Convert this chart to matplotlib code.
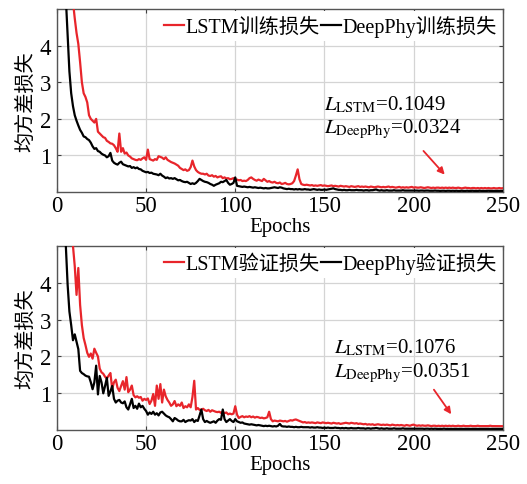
import matplotlib
matplotlib.use("Agg")
import matplotlib.pyplot as plt
import numpy as np

plt.rcParams['font.family'] = ['Liberation Serif', 'Noto Sans CJK SC']
plt.rcParams['mathtext.fontset'] = 'stix'

# ---------------- data ----------------
train_lstm = [
    14.0, 11.5, 9.8, 8.6, 7.6, 6.8, 6.1, 5.6, 5.2, 4.75,
    4.35, 4.05, 3.55, 3.0, 2.7, 2.6, 2.45, 2.1, 2.0, 1.95,
    1.9, 2.0, 1.65, 1.6, 1.55, 1.5, 1.48, 1.4, 1.37, 1.33,
    1.32, 1.28, 1.2, 1.1, 1.6, 1.1, 1.2, 1.05, 1.08, 1.0,
    0.97, 0.92, 0.9, 0.88, 0.87, 0.9, 0.88, 0.92, 0.95, 0.88,
    1.16, 0.9, 0.88, 0.86, 0.9, 0.88, 0.98, 0.96, 0.94, 0.9,
    0.95, 0.88, 0.85, 0.82, 0.8, 0.78, 0.75, 0.72, 0.66, 0.63,
    0.6, 0.62, 0.58, 0.6, 0.68, 0.86, 0.7, 0.6, 0.55, 0.52,
    0.5, 0.5, 0.48, 0.5, 0.45, 0.44, 0.46, 0.42, 0.44, 0.4,
    0.42, 0.43, 0.38, 0.4, 0.37, 0.38, 0.35, 0.36, 0.38, 0.34,
    0.34, 0.32, 0.33, 0.3, 0.31, 0.3, 0.33, 0.38, 0.4, 0.36,
    0.33, 0.31, 0.34, 0.32, 0.3, 0.36, 0.32, 0.28, 0.3, 0.27,
    0.26, 0.28, 0.25, 0.24, 0.26, 0.22, 0.23, 0.25, 0.22, 0.21,
    0.22, 0.24, 0.3, 0.45, 0.62, 0.35, 0.22, 0.2, 0.19, 0.2,
    0.19, 0.18, 0.19, 0.17, 0.18, 0.17, 0.18, 0.19, 0.17, 0.18,
    0.17, 0.16, 0.17, 0.18, 0.16, 0.17, 0.16, 0.15, 0.17, 0.16,
    0.15, 0.16, 0.15, 0.14, 0.16, 0.15, 0.14, 0.15, 0.16, 0.14,
    0.15, 0.14, 0.15, 0.14, 0.13, 0.15, 0.14, 0.13, 0.14, 0.15,
    0.14, 0.13, 0.14, 0.13, 0.14, 0.15, 0.13, 0.14, 0.13, 0.12,
    0.13, 0.14, 0.12, 0.13, 0.12, 0.13, 0.12, 0.13, 0.14, 0.12,
    0.13, 0.12, 0.12, 0.13, 0.12, 0.11, 0.12, 0.13, 0.12, 0.11,
    0.12, 0.11, 0.12, 0.12, 0.11, 0.12, 0.11, 0.12, 0.11, 0.12,
    0.11, 0.12, 0.11, 0.11, 0.12, 0.11, 0.10, 0.11, 0.12, 0.11,
    0.11, 0.10, 0.11, 0.11, 0.10, 0.11, 0.10, 0.11, 0.10, 0.11,
    0.10, 0.11, 0.10, 0.10, 0.11, 0.10, 0.10, 0.11, 0.10, 0.105,
]
train_deep = [
    20.0, 12.0, 8.5, 6.5, 5.3, 4.3, 3.3, 2.7, 2.35, 2.1,
    1.95, 1.82, 1.7, 1.62, 1.52, 1.5, 1.45, 1.42, 1.35, 1.25,
    1.18, 1.2, 1.12, 1.1, 1.05, 1.02, 1.0, 0.95, 0.98, 1.07,
    0.86, 0.8, 0.77, 0.75, 0.8, 0.83, 0.76, 0.74, 0.72, 0.7,
    0.71, 0.66, 0.68, 0.65, 0.67, 0.63, 0.62, 0.58, 0.56, 0.54,
    0.55, 0.52, 0.53, 0.5, 0.49, 0.48, 0.46, 0.5, 0.45, 0.42,
    0.38, 0.4, 0.37, 0.38, 0.36, 0.38, 0.35, 0.32, 0.33, 0.3,
    0.28, 0.27, 0.28, 0.25, 0.22, 0.24, 0.22, 0.25, 0.3, 0.36,
    0.33, 0.3, 0.28, 0.27, 0.25, 0.22, 0.2, 0.17, 0.2, 0.22,
    0.24, 0.28, 0.27, 0.3, 0.33, 0.25, 0.2, 0.22, 0.25, 0.4,
    0.17, 0.16, 0.15, 0.14, 0.15, 0.14, 0.13, 0.14, 0.13, 0.12,
    0.13, 0.12, 0.11, 0.12, 0.11, 0.10, 0.11, 0.10, 0.10, 0.11,
    0.12, 0.13, 0.12, 0.11, 0.13, 0.12, 0.10, 0.09, 0.08, 0.09,
    0.08, 0.08, 0.07, 0.08, 0.07, 0.08, 0.07, 0.07, 0.08, 0.07,
    0.07, 0.06, 0.07, 0.08, 0.07, 0.06, 0.07, 0.06, 0.06, 0.07,
    0.06, 0.07, 0.08, 0.09, 0.10, 0.08, 0.07, 0.06, 0.06, 0.05,
    0.06, 0.05, 0.05, 0.06, 0.05, 0.05, 0.05, 0.06, 0.05, 0.05,
    0.05, 0.04, 0.05, 0.05, 0.04, 0.05, 0.05, 0.06, 0.07, 0.05,
    0.04, 0.05, 0.04, 0.04, 0.05, 0.04, 0.04, 0.04, 0.05, 0.04,
    0.04, 0.04, 0.04, 0.05, 0.04, 0.04, 0.04, 0.04, 0.04, 0.04,
    0.04, 0.04, 0.035, 0.04, 0.04, 0.035, 0.04, 0.04, 0.035, 0.035,
    0.035, 0.04, 0.035, 0.035, 0.03, 0.035, 0.035, 0.03, 0.035, 0.035,
    0.03, 0.035, 0.03, 0.035, 0.03, 0.03, 0.035, 0.03, 0.03, 0.035,
    0.03, 0.03, 0.035, 0.03, 0.03, 0.03, 0.035, 0.03, 0.03, 0.03,
    0.03, 0.035, 0.03, 0.03, 0.03, 0.033, 0.03, 0.03, 0.033, 0.032,
]
val_lstm = [
    15.0, 12.0, 10.0, 8.8, 7.8, 7.0, 6.3, 5.6, 5.0, 4.45,
    3.67, 4.4, 3.4, 2.85, 2.5, 2.31, 2.1, 1.99, 2.08, 1.94,
    2.21, 2.1, 2.0, 1.67, 1.57, 1.53, 1.45, 1.4, 1.48, 1.55,
    1.12, 1.3, 1.37, 1.15, 1.06, 1.2, 1.33, 1.1, 1.44, 1.03,
    1.1, 1.21, 0.95, 0.89, 0.92, 0.88, 0.9, 0.8, 0.85, 0.82,
    0.86, 0.71, 0.8, 0.98, 0.66, 1.21, 0.85, 1.25, 0.75, 1.1,
    0.92, 0.82, 0.75, 0.66, 0.7, 0.79, 0.65, 0.7, 0.66, 0.75,
    0.6, 0.65, 0.62, 0.7, 0.62, 0.9, 1.34, 0.56, 0.6, 0.55,
    0.56, 0.58, 0.54, 0.52, 0.55, 0.5, 0.54, 0.52, 0.5, 0.49,
    0.5, 0.47, 0.5, 0.46, 0.48, 0.43, 0.45, 0.43, 0.45, 0.65,
    0.42, 0.33, 0.36, 0.38, 0.35, 0.37, 0.36, 0.38, 0.35, 0.37,
    0.34, 0.36, 0.35, 0.33, 0.34, 0.32, 0.33, 0.35, 0.5, 0.3,
    0.24, 0.26, 0.25, 0.24, 0.26, 0.25, 0.24, 0.25, 0.23, 0.25,
    0.27, 0.26, 0.28, 0.29, 0.27, 0.25, 0.23, 0.21, 0.22, 0.2,
    0.21, 0.2, 0.21, 0.2, 0.19, 0.21, 0.2, 0.19, 0.21, 0.2,
    0.19, 0.2, 0.19, 0.18, 0.2, 0.19, 0.18, 0.19, 0.17, 0.18,
    0.19, 0.2, 0.19, 0.18, 0.2, 0.19, 0.18, 0.19, 0.17, 0.18,
    0.17, 0.16, 0.17, 0.15, 0.16, 0.15, 0.16, 0.14, 0.15, 0.16,
    0.15, 0.14, 0.15, 0.14, 0.15, 0.14, 0.13, 0.15, 0.14, 0.13,
    0.14, 0.13, 0.14, 0.13, 0.12, 0.14, 0.13, 0.12, 0.14, 0.15,
    0.13, 0.12, 0.13, 0.12, 0.13, 0.12, 0.12, 0.13, 0.12, 0.11,
    0.12, 0.12, 0.11, 0.12, 0.11, 0.12, 0.11, 0.12, 0.11, 0.12,
    0.11, 0.12, 0.11, 0.11, 0.12, 0.11, 0.11, 0.12, 0.11, 0.11,
    0.11, 0.12, 0.11, 0.11, 0.11, 0.12, 0.11, 0.11, 0.11, 0.11,
    0.11, 0.11, 0.12, 0.11, 0.11, 0.11, 0.11, 0.11, 0.11, 0.108,
]
val_deep = [
    20.0, 13.0, 9.0, 6.5, 5.0, 3.95, 3.22, 2.85, 2.44, 2.6,
    2.4, 2.2, 1.61, 1.55, 1.52, 1.48, 1.46, 1.45, 1.3, 1.11,
    1.3, 1.75, 0.97, 1.47, 1.3, 1.0, 1.2, 1.42, 0.93, 1.05,
    1.2, 0.85, 0.75, 0.8, 0.82, 0.75, 0.73, 0.78, 0.62, 0.56,
    0.7, 0.85, 0.6, 0.66, 0.58, 0.72, 0.62, 0.66, 0.58, 0.52,
    0.42, 0.48, 0.44, 0.5, 0.42, 0.46, 0.4, 0.48, 0.5, 0.45,
    0.4, 0.37, 0.35, 0.3, 0.24, 0.33, 0.3, 0.26, 0.24, 0.24,
    0.28, 0.22, 0.25, 0.27, 0.26, 0.3, 0.22, 0.27, 0.25, 0.4,
    0.56, 0.3, 0.22, 0.25, 0.22, 0.2, 0.22, 0.24, 0.2, 0.26,
    0.3, 0.28, 0.56, 0.3, 0.22, 0.26, 0.3, 0.25, 0.22, 0.3,
    0.24, 0.22, 0.2, 0.21, 0.18, 0.17, 0.16, 0.15, 0.16, 0.15,
    0.14, 0.13, 0.14, 0.13, 0.12, 0.11, 0.12, 0.11, 0.12, 0.11,
    0.1, 0.11, 0.1, 0.12, 0.17, 0.11, 0.1, 0.1, 0.09, 0.1,
    0.09, 0.09, 0.08, 0.09, 0.08, 0.08, 0.09, 0.08, 0.08, 0.08,
    0.08, 0.07, 0.08, 0.07, 0.07, 0.08, 0.07, 0.07, 0.06, 0.07,
    0.06, 0.07, 0.06, 0.06, 0.06, 0.07, 0.06, 0.06, 0.05, 0.06,
    0.05, 0.06, 0.05, 0.05, 0.06, 0.05, 0.05, 0.05, 0.06, 0.05,
    0.05, 0.05, 0.04, 0.05, 0.05, 0.04, 0.05, 0.05, 0.06, 0.05,
    0.04, 0.05, 0.04, 0.04, 0.05, 0.04, 0.04, 0.04, 0.05, 0.04,
    0.04, 0.04, 0.04, 0.05, 0.04, 0.04, 0.04, 0.04, 0.04, 0.04,
    0.04, 0.04, 0.04, 0.04, 0.04, 0.035, 0.04, 0.04, 0.035, 0.04,
    0.035, 0.04, 0.035, 0.035, 0.035, 0.035, 0.04, 0.035, 0.035, 0.035,
    0.035, 0.035, 0.035, 0.035, 0.035, 0.035, 0.035, 0.035, 0.035, 0.035,
    0.035, 0.035, 0.035, 0.035, 0.035, 0.035, 0.035, 0.035, 0.035, 0.035,
    0.035, 0.035, 0.035, 0.035, 0.035, 0.035, 0.035, 0.035, 0.035, 0.035,
]
epochs = np.arange(1, len(train_lstm) + 1)

x_ticks = [0, 50, 100, 150, 200, 250]
y_ticks = [1, 2, 3, 4]

panels = [
    dict(lstm=train_lstm, deep=train_deep,
         lab_lstm='LSTM训练损失', lab_deep='DeepPhy训练损失',
         v_lstm='0.1049', v_deep='0.0324',
         text_xy=(150, 2.42), text2_xy=(150, 1.73),
         arrow_from=(204.5, 1.18), arrow_to=(218.5, 0.42)),
    dict(lstm=val_lstm, deep=val_deep,
         lab_lstm='LSTM验证损失', lab_deep='DeepPhy验证损失',
         v_lstm='0.1076', v_deep='0.0351',
         text_xy=(155.5, 2.25), text2_xy=(155.5, 1.57),
         arrow_from=(210.5, 1.16), arrow_to=(222, 0.37)),
]

RED = '#e8252b'
fig = plt.figure(figsize=(5.27, 4.85), dpi=100)
rects = [[0.108, 0.602, 0.846, 0.377], [0.108, 0.111, 0.846, 0.380]]

for rect, p in zip(rects, panels):
    ax = fig.add_axes(rect)
    ax.plot(epochs, p['lstm'], color=RED, lw=1.6, label=p['lab_lstm'], zorder=3)
    ax.plot(epochs, p['deep'], color='black', lw=1.6, label=p['lab_deep'], zorder=3)
    ax.set_xlim(0, 250)
    ax.set_ylim(0, 5)
    ax.set_xticks(x_ticks)
    ax.set_yticks(y_ticks)
    ax.grid(True, color='#d4d4d4', lw=0.9)
    ax.set_axisbelow(True)
    ax.tick_params(direction='in', top=True, right=True, length=3,
                   width=0.8, color='#404040', labelsize=16.5, pad=4)
    ax.tick_params(axis='x', pad=2)
    for s in ax.spines.values():
        s.set_color('#555555')
        s.set_linewidth(1.0)
    ax.set_xlabel('Epochs', fontsize=15, labelpad=1)
    ax.set_ylabel('均方差损失', fontsize=14.5, labelpad=3)
    leg = ax.legend(loc='upper right', ncol=2, fontsize=14.5, frameon=True,
                    fancybox=False, edgecolor='none', facecolor='white',
                    framealpha=1, handlelength=1.0, handletextpad=0.05,
                    columnspacing=0.1, borderpad=0.2, borderaxespad=0.1)
    leg.get_frame().set_linewidth(0)
    ax.text(*p['text_xy'], r'$L_{\mathrm{LSTM}}$=' + p['v_lstm'], fontsize=15,
            va='center', ha='left')
    ax.text(*p['text2_xy'], r'$L_{\mathrm{DeepPhy}}$=' + p['v_deep'], fontsize=15,
            va='center', ha='left')
    ax.annotate('', xy=p['arrow_to'], xytext=p['arrow_from'],
                arrowprops=dict(arrowstyle='-|>', color=RED, lw=1.3,
                                mutation_scale=10))

fig.savefig('out.png', dpi=100)
